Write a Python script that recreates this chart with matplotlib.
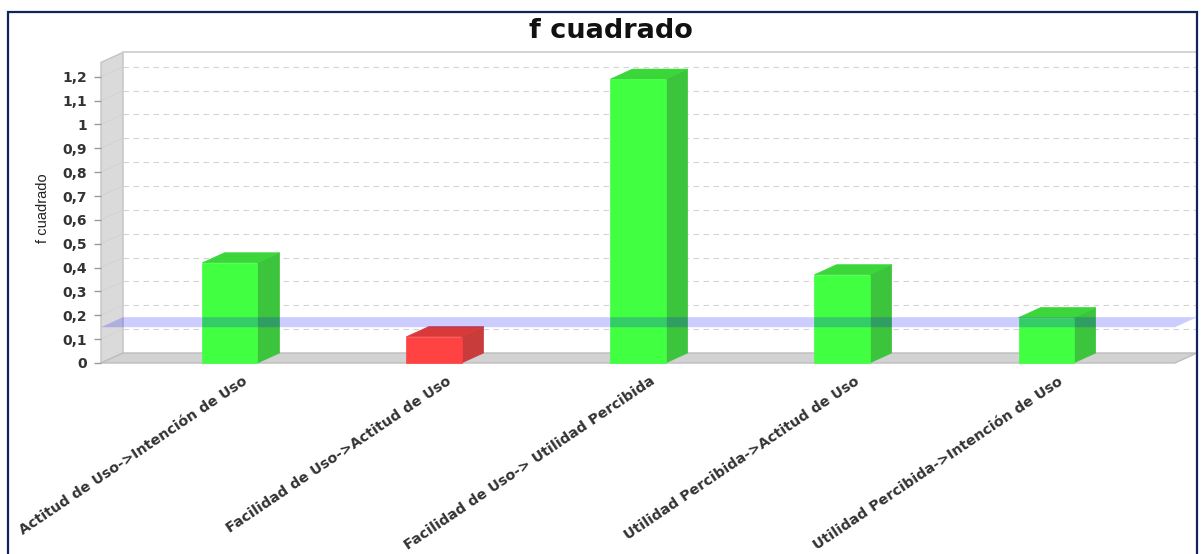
import matplotlib as mpl
mpl.use("Agg")
import matplotlib.pyplot as plt
import matplotlib.transforms as mtransforms
from matplotlib.patches import Polygon, Rectangle

# f-squared effect sizes per structural path
paths = [
    "Actitud de Uso->Intención de Uso",
    "Facilidad de Uso->Actitud de Uso",
    "Facilidad de Uso-> Utilidad Percibida",
    "Utilidad Percibida->Actitud de Uso",
    "Utilidad Percibida->Intención de Uso",
]
f2_values = [0.42, 0.11, 1.19, 0.37, 0.19]
threshold = 0.15
y_ticks = [0, 0.1, 0.2, 0.3, 0.4, 0.5, 0.6, 0.7, 0.8, 0.9, 1.0, 1.1, 1.2]
y_ticklabels = ["0", "0,1", "0,2", "0,3", "0,4", "0,5", "0,6", "0,7",
                "0,8", "0,9", "1", "1,1", "1,2"]

# colours: front / side / top faces
GREEN = ("#41ff41", "#3cc53c", "#3ad63a")
RED = ("#ff4242", "#c93c3c", "#d83a3a")

W, H = 1201, 554
fig = plt.figure(figsize=(W / 100, H / 100), dpi=100)
fig.patch.set_facecolor("white")
ax = fig.add_axes([101 / W, 191 / H, 1074 / W, 300.6 / H])

x0, x1 = -0.632, 4.632
ytop = 1.26
ax.set_xlim(x0, x1)
ax.set_ylim(0, ytop)
for s in ax.spines.values():
    s.set_visible(False)
ax.set_facecolor("none")

# depth of the pseudo-3D box, in data units (about 22 px right, 10 px up)
DX, DY = 0.108, 0.042
bw = 0.27

# left wall and floor
ax.add_patch(Polygon([(x0, 0), (x0, ytop), (x0 + DX, ytop + DY), (x0 + DX, DY)],
                     closed=True, facecolor="#dadada", edgecolor="#c4c4c4",
                     lw=1, zorder=1, clip_on=False))
ax.add_patch(Polygon([(x0, 0), (x1, 0), (x1 + DX, DY), (x0 + DX, DY)],
                     closed=True, facecolor="#d2d2d2", edgecolor="#bdbdbd",
                     lw=1, zorder=1, clip_on=False))

# back plane outline
ax.plot([x0 + DX, x1 + DX, x1 + DX], [ytop + DY, ytop + DY, DY],
        color="#cccccc", lw=1.2, zorder=1, clip_on=False)

# grid on the back plane and faint guide lines on the wall
for v in y_ticks[1:]:
    ax.plot([x0 + DX, x1 + DX], [v + DY, v + DY], color="#d4d4d4",
            lw=0.8, ls=(0, (5, 4)), zorder=1.5, clip_on=False)
    ax.plot([x0, x0 + DX], [v, v + DY], color="#d0d0d0", lw=0.5,
            zorder=1.5, clip_on=False)

# bars
for i, v in enumerate(f2_values):
    front, side, top = RED if v < threshold else GREEN
    l, r = i - bw / 2, i + bw / 2
    ax.add_patch(Polygon([(r, 0), (r, v), (r + DX, v + DY), (r + DX, DY)],
                         closed=True, facecolor=side, edgecolor=side, lw=0.5,
                         zorder=3, clip_on=False))
    ax.add_patch(Polygon([(l, v), (r, v), (r + DX, v + DY), (l + DX, v + DY)],
                         closed=True, facecolor=top, edgecolor=top, lw=0.5,
                         zorder=3, clip_on=False))
    ax.add_patch(Rectangle((l, 0), bw, v, facecolor=front, edgecolor=front,
                           lw=0.5, zorder=4, clip_on=False))

# threshold plane at f2 = 0.15
ax.add_patch(Polygon([(x0, threshold), (x1, threshold),
                      (x1 + DX, threshold + DY), (x0 + DX, threshold + DY)],
                     closed=True, facecolor="blue", alpha=0.2, lw=0,
                     zorder=6, clip_on=False))

# y axis
ax.set_yticks(y_ticks)
ax.set_yticklabels(y_ticklabels, fontsize=10, fontweight="bold",
                   family="DejaVu Sans", color="#333333")
ax.tick_params(axis="y", length=5, width=1, color="#9a9a9a", pad=5)

# x axis
ax.set_xticks(range(len(paths)))
ax.set_xticklabels(paths, rotation=34, ha="right", va="top",
                   rotation_mode="anchor", fontsize=10.3, fontweight="bold",
                   family="DejaVu Sans", color="#333333")
ax.tick_params(axis="x", length=0, pad=8)
shift = mtransforms.ScaledTranslation(0.12, 0, fig.dpi_scale_trans)
for lbl in ax.get_xticklabels():
    lbl.set_transform(lbl.get_transform() + shift)

fig.text(43 / W, 1 - 208 / H, "f cuadrado", rotation=90, ha="center",
         va="center", fontsize=10.5, family="Liberation Sans", color="#222222")
fig.text(611 / W, 1 - 31 / H, "f cuadrado", ha="center", va="center",
         fontsize=19.5, fontweight="bold", family="DejaVu Sans", color="#111111")

# outer frame
fig.add_artist(Rectangle((8 / W, -0.05), 1189 / W, 1.05 - 12 / H,
                         transform=fig.transFigure, fill=False,
                         edgecolor="#10245e", lw=1.6))

fig.savefig("out.png", dpi=100)
plt.close(fig)
